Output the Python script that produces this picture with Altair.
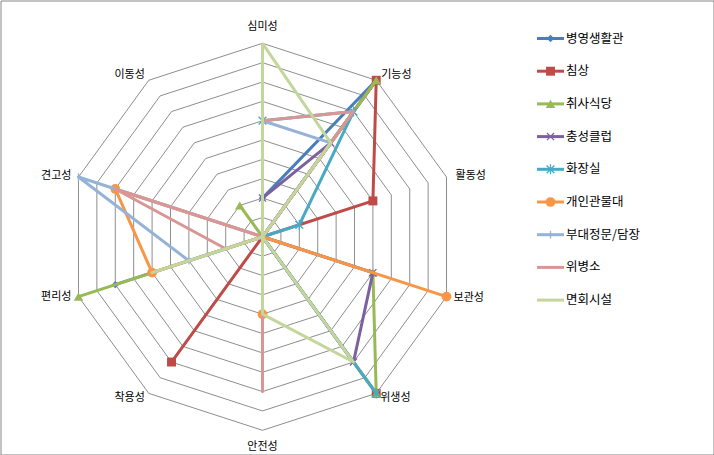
import altair as alt
import pandas as pd
import numpy as np

# ---------------- data ----------------
axes_labels = ["심미성", "기능성", "활동성", "보관성", "위생성", "안전성", "착용성", "편리성", "견고성", "이동성"]

series_names = ["병영생활관", "침상", "취사식당", "충성클럽", "화장실", "개인관물대", "부대정문/담장", "위병소", "면회시설"]

v_barracks = [2, 10, 0, 0, 0, 0, 0, 8, 0, 0]
v_bed = [0, 10, 6, 0, 10, 0, 8, 0, 0, 0]
v_kitchen = [0, 10, 0, 6, 10, 0, 0, 10, 0, 2]
v_club = [2, 6, 0, 6, 8, 0, 0, 0, 0, 0]
v_toilet = [6, 8, 2, 0, 10, 0, 0, 0, 0, 0]
v_locker = [0, 0, 0, 10, 0, 4, 0, 6, 8, 0]
v_gate = [6, 6, 0, 0, 0, 0, 0, 4, 10, 0]
v_guard = [6, 8, 0, 0, 0, 8, 0, 2, 8, 0]
v_visit = [10, 6, 0, 0, 8, 4, 0, 6, 0, 0]

series_values = [v_barracks, v_bed, v_kitchen, v_club, v_toilet, v_locker, v_gate, v_guard, v_visit]

series_colors = ["#4A7EBB", "#BE4B48", "#98B954", "#7D60A0", "#46AAC5", "#F79646", "#95B3D7", "#D99694", "#C3D69B"]

# marker shapes (None = no marker)
X_PATH = "M-1,-1L1,1M-1,1L1,-1"
STAR_PATH = "M-1,-1L1,1M-1,1L1,-1M0,-1.3L0,1.3"
PLUS_PATH = "M0,-1L0,1"
series_shapes = ["diamond", "square", "triangle-up", X_PATH, STAR_PATH, "circle", PLUS_PATH, None, None]
series_filled = [True, True, True, False, False, True, False, True, True]
series_sizes = [55, 80, 90, 50, 60, 95, 60, 0, 0]

# ---------------- layout ----------------
W, H = 713, 454
CX, CY, U = 262.0, 236.3, 19.35   # centre (px, inside plot) and px per unit
MAXV = 10
FONT = "Noto Sans CJK KR"

xscale = alt.Scale(domain=[-CX / U, (W - CX) / U], nice=False, zero=False)
yscale = alt.Scale(domain=[-(H - CY) / U, CY / U], nice=False, zero=False)


def ang(i):
    return np.deg2rad(36 * i)


def px2x(px):
    return (px - CX) / U


def px2y(py):
    return (CY - py) / U


# grid
grid_rows = []
for lev in range(1, MAXV + 1):
    for k in range(11):
        i = k % 10
        grid_rows.append(dict(level=lev, k=k, x=lev * np.sin(ang(i)), y=lev * np.cos(ang(i))))
grid_df = pd.DataFrame(grid_rows)

grid = alt.Chart(grid_df).mark_line(color="#8E8E8E", strokeWidth=1).encode(
    x=alt.X("x:Q", scale=xscale, axis=None),
    y=alt.Y("y:Q", scale=yscale, axis=None),
    detail="level:N",
    order="k:Q",
)

layers = [grid]

# axis labels
label_df = pd.DataFrame(
    dict(
        label=axes_labels,
        x=[MAXV * np.sin(ang(i)) for i in range(10)],
        y=[MAXV * np.cos(ang(i)) for i in range(10)],
    )
)
label_style = [
    ("center", 0, -16),
    ("left", 5, -5),
    ("left", 9, -1),
    ("left", 7, 1),
    ("left", 4, 5),
    ("center", 0, 17),
    ("right", -4, 5),
    ("right", -7, 0),
    ("right", -7, -1),
    ("right", -4, -5),
]
for lab, (al, dx, dy) in zip(axes_labels, label_style):
    layers.append(
        alt.Chart(label_df)
        .transform_filter(alt.datum.label == lab)
        .mark_text(align=al, baseline="middle", dx=dx, dy=dy, font=FONT, fontSize=11, color="#000000")
        .encode(x=alt.X("x:Q", scale=xscale, axis=None), y=alt.Y("y:Q", scale=yscale, axis=None), text="label:N")
    )

# series
for s, (name, vals) in enumerate(zip(series_names, series_values)):
    rows = []
    for k in range(11):
        i = k % 10
        v = vals[i]
        rows.append(dict(series=name, k=k, axis=axes_labels[i], v=v, x=v * np.sin(ang(i)), y=v * np.cos(ang(i))))
    sdf = pd.DataFrame(rows)
    layers.append(
        alt.Chart(sdf)
        .mark_line(color=series_colors[s], strokeWidth=3, strokeJoin="round")
        .encode(x=alt.X("x:Q", scale=xscale, axis=None), y=alt.Y("y:Q", scale=yscale, axis=None), order="k:Q")
    )
    if series_shapes[s] is not None:
        mdf = sdf[(sdf["k"] < 10) & (sdf["v"] > 0)]
        if series_filled[s]:
            pm = alt.Chart(mdf).mark_point(
                shape=series_shapes[s], filled=True, color=series_colors[s], size=series_sizes[s], opacity=1
            )
        else:
            pm = alt.Chart(mdf).mark_point(
                shape=series_shapes[s], filled=False, color=series_colors[s], size=series_sizes[s],
                strokeWidth=1.3, opacity=1
            )
        layers.append(pm.encode(x=alt.X("x:Q", scale=xscale, axis=None), y=alt.Y("y:Q", scale=yscale, axis=None)))

# legend
LEG_Y0, LEG_DY = 38.0, 32.7
LEG_X0, LEG_X1, LEG_XM, LEG_XT = 536.5, 563.5, 550, 565.5
leg_df = pd.DataFrame(
    dict(
        series=series_names,
        idx=list(range(len(series_names))),
    )
)
leg_df["y"] = [px2y(LEG_Y0 + LEG_DY * i) for i in leg_df["idx"]]
leg_df["x0"] = px2x(LEG_X0)
leg_df["x1"] = px2x(LEG_X1)
leg_df["xm"] = px2x(LEG_XM)
leg_df["xt"] = px2x(LEG_XT)

color_scale = alt.Scale(domain=series_names, range=series_colors)

layers.append(
    alt.Chart(leg_df)
    .mark_rule(strokeWidth=3)
    .encode(
        x=alt.X("x0:Q", scale=xscale, axis=None),
        x2="x1:Q",
        y=alt.Y("y:Q", scale=yscale, axis=None),
        color=alt.Color("series:N", scale=color_scale, legend=None),
    )
)
for s, name in enumerate(series_names):
    if series_shapes[s] is None:
        continue
    one = leg_df[leg_df["series"] == name]
    if series_filled[s]:
        pm = alt.Chart(one).mark_point(shape=series_shapes[s], filled=True, color=series_colors[s],
                                       size=series_sizes[s], opacity=1)
    else:
        pm = alt.Chart(one).mark_point(shape=series_shapes[s], filled=False, color=series_colors[s],
                                       size=series_sizes[s], strokeWidth=1.3, opacity=1)
    layers.append(pm.encode(x=alt.X("xm:Q", scale=xscale, axis=None), y=alt.Y("y:Q", scale=yscale, axis=None)))

layers.append(
    alt.Chart(leg_df)
    .mark_text(align="left", baseline="middle", font=FONT, fontSize=12.5, color="#000000")
    .encode(x=alt.X("xt:Q", scale=xscale, axis=None), y=alt.Y("y:Q", scale=yscale, axis=None), text="series:N")
)

chart = (
    alt.layer(*layers)
    .properties(
        width=W,
        height=H,
        padding={"left": 0.5, "top": 0.5, "right": 0, "bottom": 0},
        autosize=alt.AutoSizeParams(type="none"),
        background="white",
    )
    .configure_view(stroke="#868686", strokeWidth=1)
)

chart.save("out.html", embed_options={"renderer": "svg", "actions": False})
